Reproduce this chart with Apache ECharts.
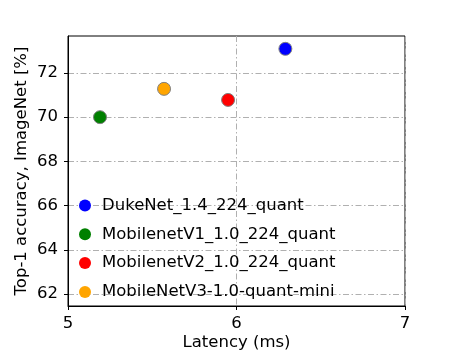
<!DOCTYPE html>
<html><head><meta charset="utf-8">
<script src="https://cdn.jsdelivr.net/npm/echarts@6/dist/echarts.min.js"></script>
<style>html,body{margin:0;padding:0;background:#fff}#c{width:450px;height:360px}</style>
</head><body><div id="c"></div>
<script>
var names = ['DukeNet_1.4_224_quant','MobilenetV1_1.0_224_quant','MobilenetV2_1.0_224_quant','MobileNetV3-1.0-quant-mini'];
var colors = ['#0000ff','#008000','#ff0000','#ffa500'];
var latency = [6.29, 5.19, 5.95, 5.57];
var accuracy = [73.09, 70.0, 70.78, 71.28];
var xTicks = [5, 6, 7];
var yTicks = [62, 64, 66, 68, 70, 72];
var font = 'DejaVu Sans';
var gridLine = {color:'#b0b0b0', width:1, type:[6,2.5,1.5,2.5]};
var chart = echarts.init(document.getElementById('c'), null, {renderer:'canvas'});
chart.setOption({
  animation:false,
  grid:{left:68, right:45, top:36, bottom:54, show:true, borderColor:'#000', borderWidth:1, containLabel:false, outerBoundsMode:'none'},
  legend:{orient:'vertical', left:74, top:192, itemGap:11.8, itemWidth:12, itemHeight:12, icon:'circle',
    textStyle:{fontFamily:font, fontSize:16.5, color:'#000', padding:[0,0,0,6]},
    itemStyle:{borderWidth:0}, data:names},
  xAxis:{type:'value', min:5, max:7, interval:1,
    name:'Latency (ms)', nameLocation:'middle', nameGap:28, nameMoveOverlap:false, nameTextStyle:{fontFamily:font, fontSize:16.5, color:'#000'},
    axisLine:{show:true, onZero:false, lineStyle:{color:'#000'}},
    axisTick:{show:true, length:4, lineStyle:{color:'#000'}},
    axisLabel:{fontFamily:font, fontSize:16.5, color:'#000', margin:9},
    splitLine:{show:true, lineStyle:gridLine}},
  yAxis:{type:'value', min:61.46, max:73.67,
    name:'Top-1 accuracy, ImageNet [%]', nameLocation:'middle', nameGap:38, nameMoveOverlap:false, nameTextStyle:{fontFamily:font, fontSize:16.5, color:'#000'},
    axisLine:{show:true, onZero:false, lineStyle:{color:'#000'}},
    axisTick:{show:true, length:4, lineStyle:{color:'#000'}, customValues:yTicks},
    axisLabel:{fontFamily:font, fontSize:16.5, color:'#000', margin:10, customValues:yTicks},
    splitLine:{show:true, lineStyle:gridLine}},
  series: names.map(function(n,i){
    return {name:n, type:'scatter', symbol:'circle', symbolSize:13,
      itemStyle:{color:colors[i], borderColor:'#808080', borderWidth:1, opacity:1},
      data:[[latency[i], accuracy[i]]]};
  })
});
</script></body></html>
